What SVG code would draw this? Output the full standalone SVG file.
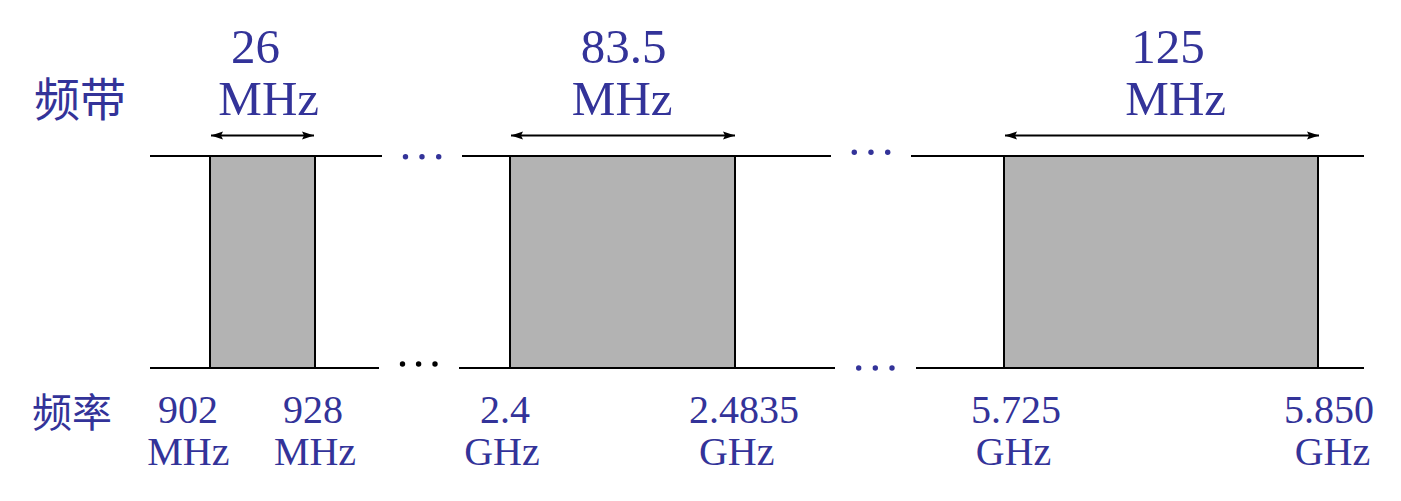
<svg xmlns="http://www.w3.org/2000/svg" width="1401" height="501" viewBox="0 0 1401 501">
<style>
.t{font-family:"Liberation Serif","Times New Roman",serif;fill:#333399;text-anchor:middle}
.top{font-size:49px}
.bot{font-size:40px}
.cjk{font-family:"Noto Sans CJK SC","Noto Sans CJK JP",sans-serif;fill:#333399}
.ln{stroke:#000;stroke-width:2;fill:none}
.box{fill:#b3b3b3;stroke:#000;stroke-width:2}
.arr{stroke:#000;stroke-width:2;fill:none;marker-start:url(#ah);marker-end:url(#ah)}
.db{fill:#333399}
.dk{fill:#000}
</style>
<defs>
<marker id="ah" markerUnits="userSpaceOnUse" markerWidth="14" markerHeight="10" viewBox="0 0 14 10" refX="13" refY="5" orient="auto-start-reverse">
<path d="M1,1 L13,5 L1,9 L3,5 z" fill="#000"/>
</marker>
</defs>
<rect width="1401" height="501" fill="#fff"/>
<g id="connectors">
<line class="ln" x1="150" y1="156" x2="382" y2="156"/>
<line class="ln" x1="462" y1="156" x2="831" y2="156"/>
<line class="ln" x1="911" y1="156" x2="1364" y2="156"/>
<line class="ln" x1="150" y1="368" x2="379" y2="368"/>
<line class="ln" x1="459" y1="368" x2="835" y2="368"/>
<line class="ln" x1="916" y1="368" x2="1364" y2="368"/>
<line class="arr" x1="211" y1="135.5" x2="314" y2="135.5"/>
<line class="arr" x1="511" y1="135.5" x2="735" y2="135.5"/>
<line class="arr" x1="1005" y1="135.5" x2="1319" y2="135.5"/>
</g>
<g id="band1">
<rect class="box" x="210" y="156" width="105" height="212"/>
<text class="t top" x="255.5" y="63">26</text>
<text class="t top" x="268.7" y="115">MHz</text>
<text class="t bot" x="188" y="423">902</text>
<text class="t bot" x="188.3" y="465">MHz</text>
<text class="t bot" x="313" y="423">928</text>
<text class="t bot" x="315" y="465">MHz</text>
</g>
<g id="band2">
<rect class="box" x="510" y="156" width="225" height="212"/>
<text class="t top" x="623.7" y="63">83.5</text>
<text class="t top" x="622.2" y="115">MHz</text>
<text class="t bot" x="505" y="423">2.4</text>
<text class="t bot" x="502" y="465">GHz</text>
<text class="t bot" x="744" y="423">2.4835</text>
<text class="t bot" x="736.7" y="465">GHz</text>
</g>
<g id="band3">
<rect class="box" x="1004" y="156" width="314" height="212"/>
<text class="t top" x="1168" y="63">125</text>
<text class="t top" x="1175.7" y="115">MHz</text>
<text class="t bot" x="1016" y="423">5.725</text>
<text class="t bot" x="1013.5" y="465">GHz</text>
<text class="t bot" x="1329" y="423">5.850</text>
<text class="t bot" x="1332.5" y="465">GHz</text>
</g>
<g id="labels">
<text class="cjk" x="34" y="116" font-size="46">频带</text>
<text class="cjk" x="32" y="427" font-size="40">频率</text>
</g>
<g id="ellipses">
<circle class="db" cx="405.5" cy="156.7" r="2.7"/>
<circle class="db" cx="422" cy="156.7" r="2.7"/>
<circle class="db" cx="438.7" cy="156.7" r="2.7"/>
<circle class="db" cx="854.3" cy="152.3" r="2.7"/>
<circle class="db" cx="871" cy="152.3" r="2.7"/>
<circle class="db" cx="887.7" cy="152.3" r="2.7"/>
<circle class="dk" cx="402.5" cy="364" r="2.7"/>
<circle class="dk" cx="418.6" cy="364" r="2.7"/>
<circle class="dk" cx="435" cy="364" r="2.7"/>
<circle class="db" cx="858.7" cy="368" r="2.7"/>
<circle class="db" cx="875.3" cy="368" r="2.7"/>
<circle class="db" cx="892" cy="368" r="2.7"/>
</g>
</svg>
